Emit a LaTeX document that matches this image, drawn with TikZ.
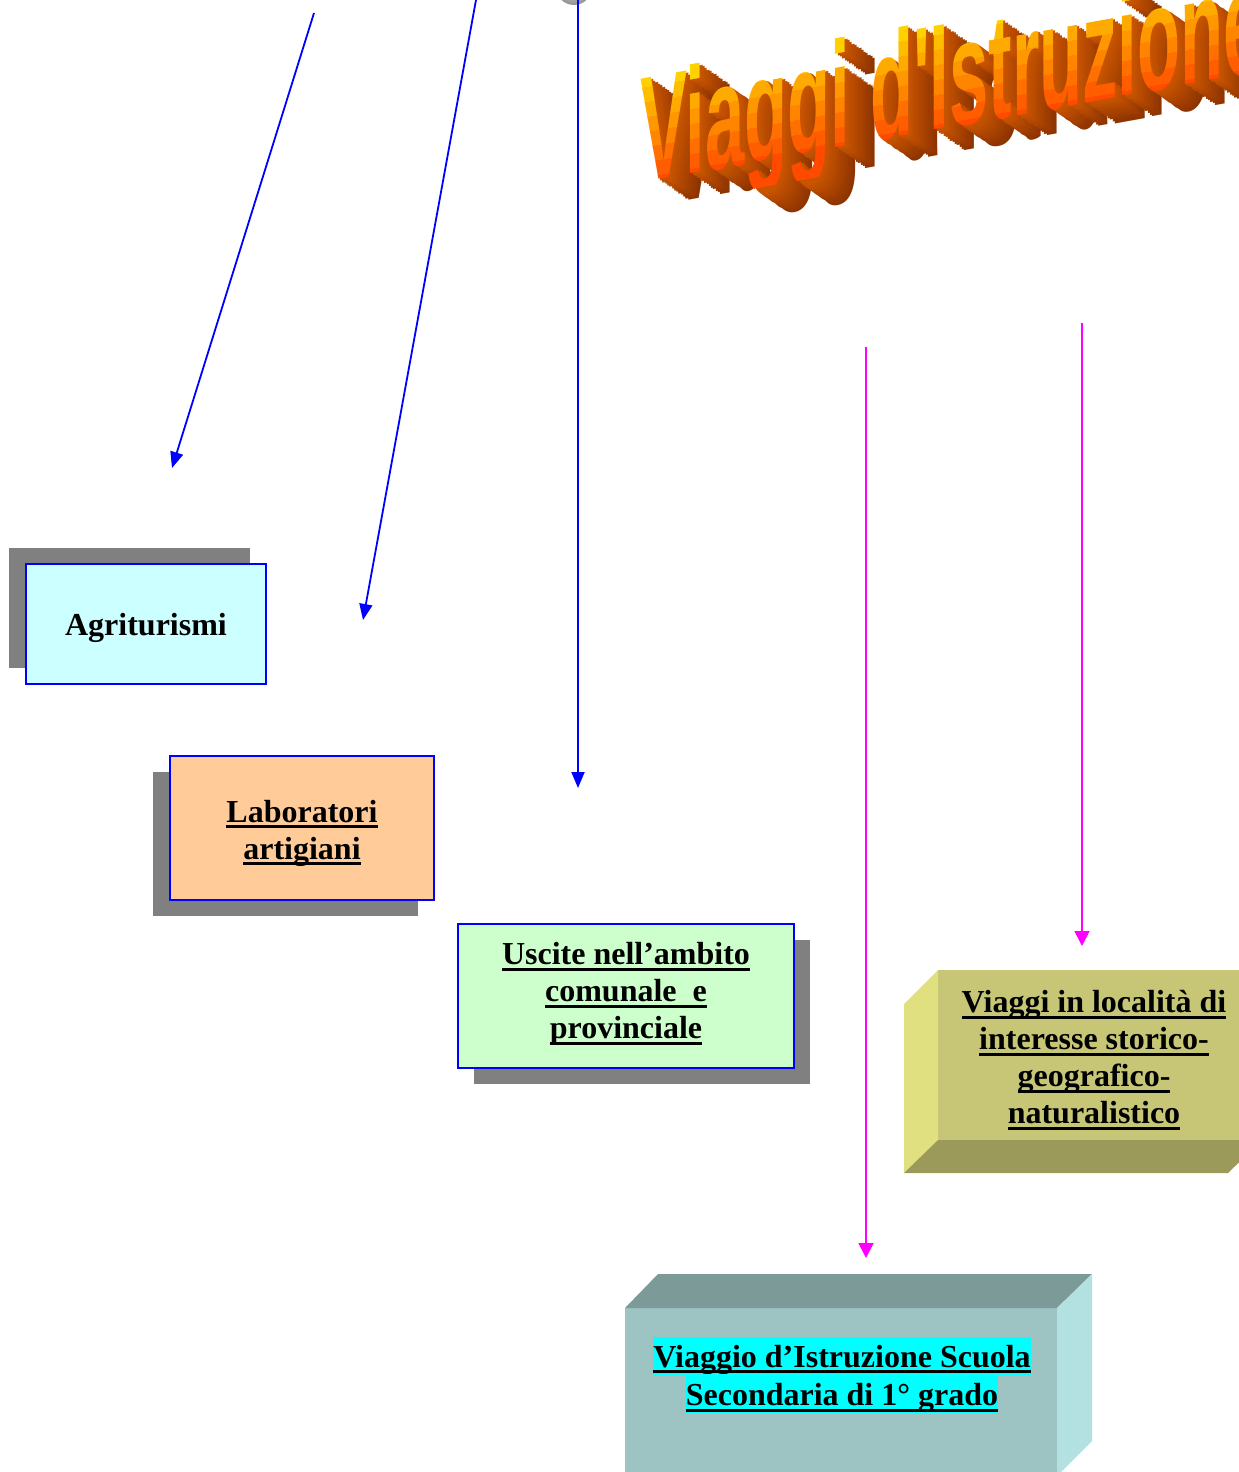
\documentclass[tikz,border=0pt]{standalone}
\usepackage{fontspec}
\setmainfont{Liberation Serif}
\newfontfamily\titlefont{Liberation Sans}
\usetikzlibrary{arrows.meta}
\definecolor{shadowgray}{HTML}{808080}
\definecolor{boxcyan}{HTML}{CCFFFF}
\definecolor{boxorange}{HTML}{FFCC99}
\definecolor{boxgreen}{HTML}{CCFFCC}
\definecolor{oliveFront}{HTML}{C6C676}
\definecolor{oliveLeft}{HTML}{E0E080}
\definecolor{oliveBottom}{HTML}{9C9A5A}
\definecolor{tealTop}{HTML}{7B9A98}
\definecolor{tealFront}{HTML}{9DC3C3}
\definecolor{tealRight}{HTML}{B3E0E0}
\definecolor{hilite}{HTML}{00FFFF}
\definecolor{ttop}{HTML}{FFE400}
\definecolor{tbot}{HTML}{FF4A00}
\definecolor{exfar}{HTML}{8E3400}
\definecolor{exnear}{HTML}{C85400}
\definecolor{arrowblue}{HTML}{0000FF}
\definecolor{arrowmag}{HTML}{FF00FF}
\newsavebox\ulbox
\newcommand\ulx[1]{\sbox\ulbox{#1}\rlap{\rule[-6pt]{\wd\ulbox}{3pt}}\usebox\ulbox}
\newcommand\hlx[1]{{\setlength\fboxsep{0pt}\colorbox{hilite}{\rule[-7pt]{0pt}{37pt}\ulx{#1}}}}
\newcommand\titletxt{\scalebox{0.47}[1]{Viaggi d'Istruzione}}
\tikzset{
  shadowbox/.style={fill=shadowgray, draw=none},
  flatbox/.style={draw=arrowblue, line width=1.8pt},
  boxtext/.style={align=center, inner sep=0pt, font=\bfseries\fontsize{32}{37}\selectfont},
  titletext/.style={anchor=base west, transform shape, inner sep=0pt,
    font=\titlefont\bfseries\fontsize{150}{150}\selectfont},
  barrow/.style={draw=arrowblue, line width=1.8pt, -{Triangle[length=16pt,width=13pt]}},
  marrow/.style={draw=arrowmag, line width=1.6pt, -{Triangle[length=15pt,width=15pt]}}
}
\begin{document}
\begin{tikzpicture}[x=1pt, y=-1pt]
\useasboundingbox (0,0) rectangle (1239,1472);
\clip (0,0) rectangle (1239,1472);

% ---- title: extrusion ----
\foreach \i in {13,...,1}{
  \pgfmathsetmacro\p{100*(13-\i)/12}
  \colorlet{excol}{exnear!\p!exfar}
  \begin{scope}[shift={(640+2.3*\i,183+1.6*\i)}, yslant=0.18]
    \node[titletext, text=excol] at (0,0) {\titletxt};
  \end{scope}
}
% ---- title: gradient front face ----
\foreach \k in {0,...,9}{
  \pgfmathsetmacro\p{min(100,\k*100/8)}
  \colorlet{tcol}{tbot!\p!ttop}
  \begin{scope}[shift={(640,183)}, yslant=0.18]
    \clip (-40,{-125+\k*15}) rectangle (720,{-125+\k*15+15.6});
    \node[titletext, text=tcol] (title\k) at (0,0) {\titletxt};
  \end{scope}
}

% ---- ball at top ----
\shade[inner color=gray!35, outer color=gray!85] (574,-13) circle (18);

% ---- arrows ----
\coordinate (a1s) at (314,13);  \coordinate (a1e) at (172,468);
\coordinate (a2s) at (476,0);   \coordinate (a2e) at (363,620);
\coordinate (a3s) at (578,0);   \coordinate (a3e) at (578,788);
\coordinate (a4s) at (866,347); \coordinate (a4e) at (866,1258);
\coordinate (a5s) at (1082,323);\coordinate (a5e) at (1082,946);
\draw[barrow] (a1s) -- (a1e);
\draw[barrow] (a2s) -- (a2e);
\draw[barrow] (a3s) -- (a3e);
\draw[marrow] (a4s) -- (a4e);
\draw[marrow] (a5s) -- (a5e);

% ---- Agriturismi ----
\fill[shadowbox] (9,548) rectangle (250,668);
\draw[flatbox, fill=boxcyan] (26,564) rectangle (266,684);
\node[boxtext] (agri) at (146,628) {Agriturismi};

% ---- Laboratori ----
\fill[shadowbox] (153,772) rectangle (418,916);
\draw[flatbox, fill=boxorange] (170,756) rectangle (434,900);
\node[boxtext] (lab) at (302,833) {\ulx{Laboratori}\\\ulx{artigiani}};

% ---- Uscite ----
\fill[shadowbox] (474,940) rectangle (810,1084);
\draw[flatbox, fill=boxgreen] (458,924) rectangle (794,1068);
\node[boxtext] (usc) at (626,994) {\ulx{Uscite nell’ambito}\\\ulx{comunale\ \ e}\\\ulx{provinciale}};

% ---- Viaggi in localita (3D) ----
\fill[oliveFront] (938,970) rectangle (1262,1140);
\fill[oliveLeft] (904,1004) -- (938,970) -- (938,1140) -- (904,1173) -- cycle;
\fill[oliveBottom] (938,1140) -- (1262,1140) -- (1228,1173) -- (904,1173) -- cycle;
\node[boxtext] (loc) at (1094,1060) {\ulx{Viaggi in località di}\\\ulx{interesse storico-}\\\ulx{geografico-}\\\ulx{naturalistico}};

% ---- Viaggio d'Istruzione (3D) ----
\fill[tealFront] (625,1308) rectangle (1057,1480);
\fill[tealTop] (625,1308) -- (658,1274) -- (1092,1274) -- (1057,1308) -- cycle;
\fill[tealRight] (1057,1308) -- (1092,1274) -- (1092,1441) -- (1057,1476) -- cycle;
\node[boxtext] (main) at (842,1375) {\hlx{Viaggio d’Istruzione Scuola}\\\hlx{Secondaria di 1° grado}};
\end{tikzpicture}
\end{document}
